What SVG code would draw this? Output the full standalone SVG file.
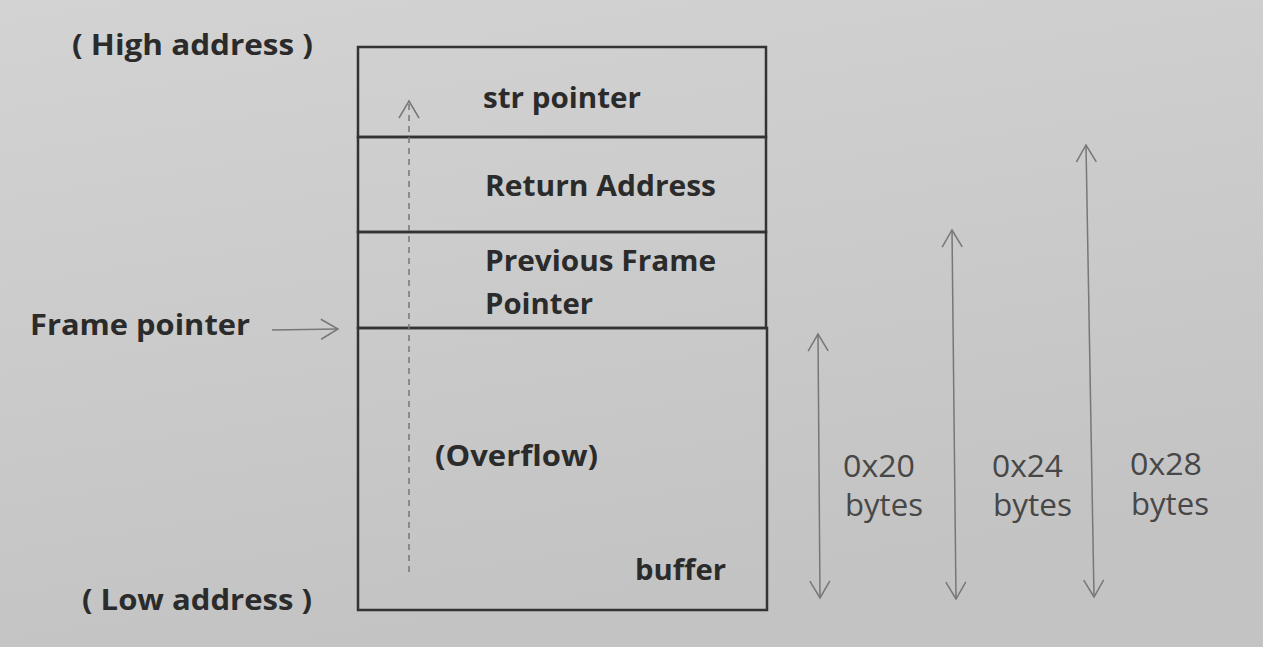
<svg xmlns="http://www.w3.org/2000/svg" width="1263" height="647" viewBox="0 0 1263 647">
<defs>
<linearGradient id="bg" x1="0" y1="0" x2="0.3" y2="1">
<stop offset="0" stop-color="#d3d3d3"/>
<stop offset="1" stop-color="#c3c3c3"/>
</linearGradient>
<marker id="open" viewBox="0 0 20 22" refX="18" refY="11" markerWidth="20" markerHeight="22" markerUnits="userSpaceOnUse" orient="auto-start-reverse">
<path d="M1,1 L18,11 L1,21" fill="none" stroke="#777" stroke-width="1.5"/>
</marker>
</defs>
<style>
.cell{fill:none;stroke:#333;stroke-width:2.5}
.b{font-family:"Open Sans",Lato,sans-serif;font-weight:bold;font-size:29px;fill:#2b2b2b}
.r{font-family:"Open Sans",Lato,sans-serif;font-size:31px;fill:#474747}
.arr{fill:none;stroke:#777;stroke-width:1.5}
</style>
<rect width="1263" height="647" fill="url(#bg)"/>
<g id="stack">
<g id="str-pointer"><rect class="cell" x="358" y="47" width="408" height="90"/><text class="b" x="483" y="108" textLength="158" lengthAdjust="spacingAndGlyphs">str pointer</text></g>
<g id="return-address"><rect class="cell" x="358" y="137" width="408" height="95"/><text class="b" x="485" y="196" textLength="231" lengthAdjust="spacingAndGlyphs">Return Address</text></g>
<g id="previous-frame-pointer"><rect class="cell" x="358" y="232" width="408" height="96"/><text class="b" x="485" y="271" textLength="231" lengthAdjust="spacingAndGlyphs">Previous Frame</text><text class="b" x="485" y="314" textLength="108" lengthAdjust="spacingAndGlyphs">Pointer</text></g>
<g id="buffer"><rect class="cell" x="358" y="328" width="409" height="282"/><text class="b" x="435" y="466" textLength="163" lengthAdjust="spacingAndGlyphs">(Overflow)</text><text class="b" x="635" y="580" textLength="91" lengthAdjust="spacingAndGlyphs">buffer</text></g>
</g>
<g id="labels">
<text class="b" x="72" y="55" textLength="241" lengthAdjust="spacingAndGlyphs">( High address )</text>
<text class="b" x="30" y="335" textLength="220" lengthAdjust="spacingAndGlyphs">Frame pointer</text>
<text class="b" x="82" y="610" textLength="230" lengthAdjust="spacingAndGlyphs">( Low address )</text>
<text class="r" x="843" y="477" textLength="72" lengthAdjust="spacingAndGlyphs">0x20</text><text class="r" x="845" y="516" textLength="78" lengthAdjust="spacingAndGlyphs">bytes</text>
<text class="r" x="992" y="477" textLength="71" lengthAdjust="spacingAndGlyphs">0x24</text><text class="r" x="993" y="516" textLength="79" lengthAdjust="spacingAndGlyphs">bytes</text>
<text class="r" x="1130" y="475" textLength="72" lengthAdjust="spacingAndGlyphs">0x28</text><text class="r" x="1131" y="515" textLength="78" lengthAdjust="spacingAndGlyphs">bytes</text>
</g>
<g id="connectors">
<line class="arr" x1="272" y1="330" x2="338" y2="329" marker-end="url(#open)"/>
<line class="arr" x1="409" y1="572" x2="409" y2="101" stroke-dasharray="6,5" marker-end="url(#open)"/>
<line class="arr" x1="820" y1="598" x2="818" y2="334" marker-start="url(#open)" marker-end="url(#open)"/>
<line class="arr" x1="956" y1="599" x2="952" y2="230" marker-start="url(#open)" marker-end="url(#open)"/>
<line class="arr" x1="1094" y1="597" x2="1086" y2="145" marker-start="url(#open)" marker-end="url(#open)"/>
</g>
</svg>
